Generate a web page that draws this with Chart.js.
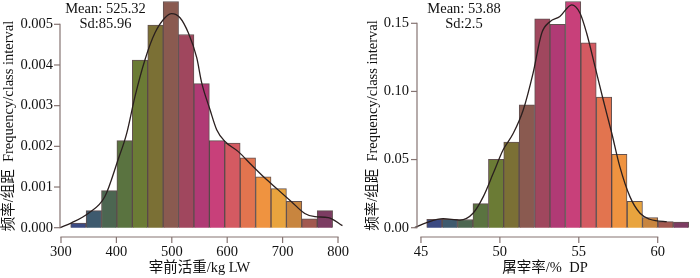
<!DOCTYPE html>
<html><head><meta charset="utf-8">
<script src="https://cdn.jsdelivr.net/npm/chart.js@4.4.1/dist/chart.umd.min.js"></script>
<style>
html,body{margin:0;padding:0;background:#fff;overflow:hidden}
#wrap{position:relative;width:700px;height:278px}
canvas{position:absolute;top:0}
</style></head><body>
<div id="wrap">
<canvas id="c1" width="350" height="278" style="left:0"></canvas>
<canvas id="c2" width="350" height="278" style="left:350px"></canvas>
</div>
<script>
// ---------- Data: live weight (LW) ----------
const lwBinCenters = [331.4, 359.2, 387.0, 414.8, 442.6, 470.5, 498.3, 526.1, 553.9, 581.7, 609.5, 637.3, 665.2, 693.0, 720.8, 748.6, 776.4];
const lwDensity = [0.000115, 0.00042, 0.00091, 0.00214, 0.00412, 0.00498, 0.00556, 0.00475, 0.00354, 0.00214, 0.00208, 0.00172, 0.00125, 0.00096, 0.00065, 0.00022, 0.00042];
const lwCurveX = [298, 319, 349, 379, 403, 418.6, 433.6, 451.6, 469.7, 487.7, 499.8, 514.8, 529.8, 545, 554, 569, 581, 596, 620, 644, 668, 692, 716, 740, 758.5, 782.5, 808];
const lwCurveY = [0, 0.00012, 0.00035, 0.00076, 0.00167, 0.00232, 0.00323, 0.00413, 0.00479, 0.00516, 0.00526, 0.00516, 0.00479, 0.00418, 0.00356, 0.0029, 0.00241, 0.00212, 0.00187, 0.00154, 0.00122, 0.00093, 0.00064, 0.00035, 0.00027, 0.00025, 0.00005];
const lwTicksX = [300, 400, 500, 600, 700, 800];
const lwTicksY = [0, 0.001, 0.002, 0.003, 0.004, 0.005];
const lwStats = ["Mean: 525.32", "Sd:85.96"];

// ---------- Data: dressing percentage (DP) ----------
const dpBinCenters = [45.85, 46.83, 47.80, 48.78, 49.76, 50.73, 51.71, 52.69, 53.66, 54.64, 55.62, 56.60, 57.57, 58.55, 59.52, 60.50, 61.48];
const dpDensity = [0.0061, 0.0061, 0.006, 0.0177, 0.0502, 0.0629, 0.0901, 0.1532, 0.1493, 0.166, 0.1357, 0.0958, 0.0539, 0.0194, 0.0075, 0.0044, 0.0041];
const dpCurveX = [44.6, 45.36, 46.4, 47.47, 48.3, 48.95, 49.58, 50.2, 50.85, 51.48, 52.1, 52.65, 53.17, 53.8, 54.55, 55.08, 55.5, 56.03, 56.55, 57.09, 57.6, 58.24, 58.88, 59.5, 60.57, 61.6, 62.57];
const dpCurveY = [0, 0.0037, 0.0066, 0.0056, 0.0106, 0.0228, 0.0399, 0.057, 0.0693, 0.0864, 0.1133, 0.1427, 0.1512, 0.155, 0.1635, 0.1574, 0.1427, 0.1182, 0.0937, 0.0693, 0.0448, 0.0228, 0.0106, 0.0062, 0.0044, 0.0037, 0];
const dpTicksX = [45, 50, 55, 60];
const dpTicksY = [0, 0.05, 0.10, 0.15];
const dpStats = ["Mean: 53.88", "Sd:2.5"];

const yTitle = "频率/组距  Frequency/class interval";
const lwXTitle = "宰前活重/kg LW";
const dpXTitle = "屠宰率/%  DP";

// ---------- Style ----------
const palette = ["#3b4a82", "#3e5a6e", "#4c6651", "#5a7340", "#6b7b35", "#7b7035", "#8a5a50", "#a0475e", "#b03a75", "#c8407a", "#d45a62", "#e2744f", "#ef9340", "#e9a43e", "#c8853f", "#a2584f", "#7c3c62"];
const FONT = "'Liberation Serif', 'Noto Sans CJK SC', serif";
const AXIS_COLOR = "#857472";
const TEXT_COLOR = "#111";

function strokeSeg(ctx, x1, y1, x2, y2) {
  ctx.beginPath();
  ctx.moveTo(x1, y1);
  ctx.lineTo(x2, y2);
  ctx.stroke();
}

const rAxes = {
  id: 'rAxes',
  afterDraw(chart, args, o) {
    const ctx = chart.ctx;
    const area = chart.chartArea;
    const xs = chart.scales.x, ys = chart.scales.y;
    const yT = o.yTicks, xT = o.xTicks;
    ctx.save();
    ctx.globalAlpha = 1;
    ctx.setLineDash([]);
    ctx.strokeStyle = AXIS_COLOR;
    ctx.lineWidth = 1.2;
    const ax = Math.round(area.left);
    const ay = Math.round(area.bottom + 9.6);
    strokeSeg(ctx, ax, ys.getPixelForValue(yT[0]) + 0.6, ax, ys.getPixelForValue(yT[yT.length - 1]) - 0.6);
    yT.forEach(v => {
      const py = ys.getPixelForValue(v);
      strokeSeg(ctx, ax, py, ax - 6, py);
    });
    strokeSeg(ctx, xs.getPixelForValue(xT[0]) - 0.6, ay, xs.getPixelForValue(xT[xT.length - 1]) + 0.6, ay);
    xT.forEach(v => {
      const px = xs.getPixelForValue(v);
      strokeSeg(ctx, px, ay, px, ay + 6);
    });

    ctx.fillStyle = TEXT_COLOR;
    ctx.font = "14.5px " + FONT;
    ctx.textAlign = "right";
    ctx.textBaseline = "middle";
    yT.forEach(v => ctx.fillText(v.toFixed(o.dec), ax - o.yPad, ys.getPixelForValue(v)));
    ctx.textAlign = "center";
    xT.forEach(v => ctx.fillText(String(v), xs.getPixelForValue(v), area.bottom + 24.6));
    ctx.textBaseline = "alphabetic";
    ctx.fillText(o.stats[0], o.statsX, 12.5);
    ctx.fillText(o.stats[1], o.statsX, 28);
    ctx.fillText(o.xTitle, o.xTitleX, 272);
    ctx.translate(o.yTitleX, (area.top + area.bottom) / 2);
    ctx.rotate(-Math.PI / 2);
    ctx.fillText(yTitle, 0, 0);
    ctx.restore();
  }
};

function makeChart(id, cfg) {
  const bars = cfg.centers.map((c, i) => ({x: c, y: cfg.density[i]}));
  const curve = cfg.curveX.map((c, i) => ({x: c, y: cfg.curveY[i]}));
  return new Chart(document.getElementById(id), {
    type: 'bar',
    data: {
      datasets: [
        {type: 'line', data: curve, borderColor: '#2a1f1f', borderWidth: 1.3, pointRadius: 0,
         tension: 0.4, cubicInterpolationMode: 'monotone', fill: false, clip: false, order: 1},
        {type: 'bar', data: bars, backgroundColor: palette, borderColor: 'rgba(70,50,50,0.85)',
         borderWidth: 1, barPercentage: 1, categoryPercentage: 1, clip: false, order: 2}
      ]
    },
    options: {
      responsive: false,
      devicePixelRatio: 1,
      animation: false,
      layout: {autoPadding: false, padding: cfg.pad},
      plugins: {legend: {display: false}, tooltip: {enabled: false},
        rAxes: {xTicks: cfg.ticksX, yTicks: cfg.ticksY, stats: cfg.stats, statsX: cfg.statsX, dec: cfg.dec, yPad: cfg.yPad,
                xTitle: cfg.xTitle, xTitleX: cfg.xTitleX, yTitleX: cfg.yTitleX}},
      scales: {
        x: {type: 'linear', display: false, offset: false, min: cfg.xMin, max: cfg.xMax},
        y: {type: 'linear', display: false, min: 0, max: cfg.ticksY[cfg.ticksY.length - 1]}
      }
    },
    plugins: [rAxes]
  });
}

makeChart('c1', {
  centers: lwBinCenters, density: lwDensity, curveX: lwCurveX, curveY: lwCurveY,
  ticksX: lwTicksX, ticksY: lwTicksY, stats: lwStats, xTitle: lwXTitle,
  xMin: 298.2, xMax: 800, pad: {left: 60, right: 12, top: 24.3, bottom: 50.3}, yPad: 7, dec: 3,
  statsX: 105.5, xTitleX: 199.5, yTitleX: 13
});
makeChart('c2', {
  centers: dpBinCenters, density: dpDensity, curveX: dpCurveX, curveY: dpCurveY,
  ticksX: dpTicksX, ticksY: dpTicksY, stats: dpStats, xTitle: dpXTitle,
  xMin: 44.73, xMax: 60, pad: {left: 66.7, right: 42.3, top: 23.3, bottom: 50.3}, yPad: 8, dec: 2,
  statsX: 114, xTitleX: 195, yTitleX: 26.5
});
</script>
</body></html>
